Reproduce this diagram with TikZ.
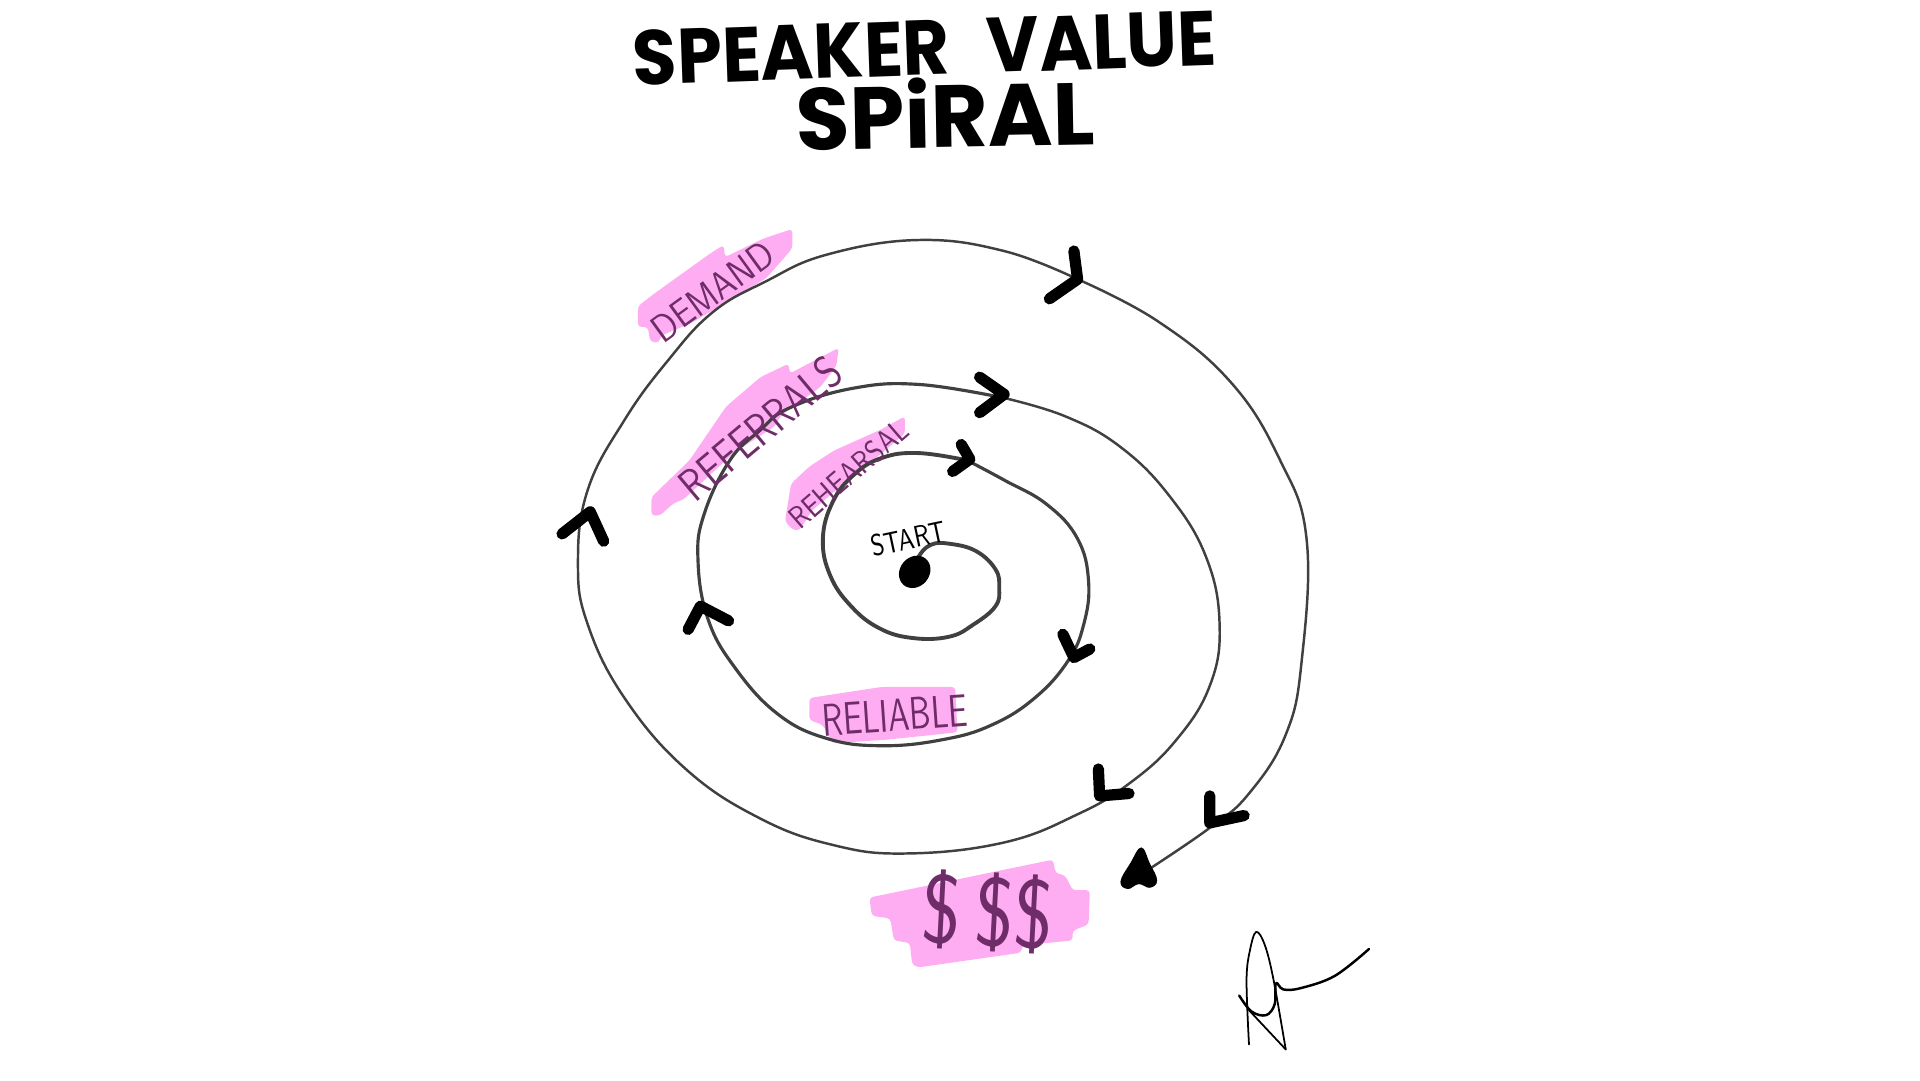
\documentclass[tikz,border=0pt]{standalone}
\usepackage{fontspec}
\setmainfont{Poppins}
\usepackage{tikz}
\definecolor{marker}{HTML}{FFADF2}
\definecolor{inked}{HTML}{6E2C68}
\tikzset{
    marked/.style={fill=marker, rounded corners=1pt},
    turn/.style={draw=black!75, line join=round, line cap=round},
    tip/.style={draw=black, line width=3.2pt, line cap=round, line join=round},
    heading/.style={inner sep=0pt, text=black, transform shape},
    tag/.style={inner sep=0pt, text=inked, transform shape},
}

\begin{document}
\begin{tikzpicture}[x=0.012245cm, y=-0.012245cm]
    \useasboundingbox (0, 0) rectangle (1568, 882);

    % highlighter
    \fill[marked] (521, 250) -- (534, 240) -- (580, 207) -- (591, 200) -- (592, 210) -- (623, 195) -- (647, 187) -- (647, 203) -- (626, 227) -- (588, 250) -- (564, 264) -- (540, 274) -- (538, 280) -- (531, 279) -- (529, 267) -- (521, 267) -- cycle;
    \fill[marked] (532, 406) -- (563, 376) -- (593, 332) -- (621, 308) -- (644, 297) -- (645, 305) -- (685, 284) -- (683, 299) -- (670, 316) -- (637, 340) -- (633, 348) -- (599, 370) -- (558, 408) -- (550, 411) -- (539, 421) -- (532, 421) -- cycle;
    \fill[marked] (646, 395) -- (661, 381) -- (681, 368) -- (719, 351) -- (739, 340) -- (739, 354) -- (713, 376) -- (683, 400) -- (663, 417) -- (653, 433) -- (648, 433) -- (641, 426) -- cycle;
    \fill[marked] (661, 570) -- (720, 561) -- (780, 561) -- (782, 598) -- (725, 604) -- (680, 607) -- (672, 592) -- (661, 588) -- cycle;
    \fill[marked] (710, 733) -- (860, 702) -- (862, 713) -- (870, 715) -- (876, 727) -- (890, 727) -- (889, 755) -- (876, 760) -- (876, 768) -- (835, 772) -- (834, 778) -- (750, 790) -- (745, 788) -- (743, 770) -- (730, 768) -- (727, 750) -- (712, 748) -- cycle;

    % spiral, from the middle outwards
    \draw[turn, line width=1.1pt] plot[smooth, tension=0.7] coordinates {(747,467) (750,455) (760,445) (775,444) (797,450) (813,465) (816,480) (813,495) (795,510) (775,520) (745,521) (718,513) (695,495) (678,470) (672,440) (680,410) (697,388) (720,374) (750,370) (790,376)};
    \draw[turn, line width=0.9pt] plot[smooth, tension=0.7] coordinates {(790,376) (820,392) (855,412) (880,440) (889,475) (885,510) (872,540) (845,570) (810,592) (770,604) (720,609) (675,603) (635,583) (600,545) (578,505) (570,457) (575,420) (596,376) (620,352) (645,333) (697,317) (751,314) (820,325)};
    \draw[turn, line width=0.7pt] plot[smooth, tension=0.7] coordinates {(820,325) (870,340) (915,365) (955,405) (985,455) (996,510) (988,560) (960,605) (922,640) (880,665) (820,688) (740,697) (680,690) (620,668) (560,628) (510,570) (480,510) (472,460) (480,400) (510,343) (545,295) (582,255) (625,230) (675,208) (750,196) (820,205) (880,228)};
    \draw[turn, line width=0.7pt] plot[smooth, tension=0.7] coordinates {(880,228) (945,262) (1005,312) (1045,375) (1067,440) (1063,540) (1050,600) (1020,648) (988,676) (935,712)};

    % arrow tips
    \draw[tip] (877, 205) -- (880, 228) -- (857, 244);
    \draw[tip] (800, 308) -- (820, 322) -- (800, 337);
    \draw[tip] (785, 363) -- (792, 375) -- (778, 385);
    \draw[tip] (868, 518) -- (877, 537) -- (890, 530);
    \draw[tip] (897, 628) -- (898, 650) -- (922, 648);
    \draw[tip] (988, 650) -- (988, 672) -- (1016, 666);
    \draw[tip] (562, 514) -- (572, 495) -- (595, 507);
    \draw[tip] (459, 436) -- (482, 418) -- (493, 442);
    \fill[black] plot[smooth cycle, tension=0.7] coordinates {(932,692) (939,705) (945,719) (939,725) (930,722) (921,726) (915,720) (923,705)};
    \fill[black, rotate around={50:(747, 467)}] (747, 467) ellipse (14 and 12);

    % labels
    \node[heading, rotate=2, xscale=0.93, font=\bfseries\fontsize{22}{22}\selectfont] (title1) at (755, 39) {SPEAKER\hspace{0.3em}~VALUE};
    \node[heading, rotate=1, font=\bfseries\fontsize{25}{25}\selectfont] (title2) at (772, 92) {SPiRAL};
    \node[tag, rotate=36, xscale=0.88, font=\sffamily\fontsize{11}{11}\selectfont] (demand) at (582, 238) {DEMAND};
    \node[tag, rotate=40, xscale=0.8, font=\sffamily\fontsize{13}{13}\selectfont] (referrals) at (621, 350) {REFERRALS};
    \node[tag, rotate=41, xscale=0.8, font=\sffamily\fontsize{9}{9}\selectfont] (rehearsal) at (693, 387) {REHEARSAL};
    \node[tag, rotate=12, xscale=0.78, text=black, font=\sffamily\fontsize{8.5}{8.5}\selectfont] (start) at (742, 440) {START};
    \node[tag, rotate=4, xscale=0.72, font=\sffamily\fontsize{13}{13}\selectfont] (reliable) at (731, 584) {RELIABLE};
    \node[tag, rotate=-3, xscale=0.85, font=\sffamily\fontsize{28}{28}\selectfont] (money) at (807, 745) {\$\,\$\$};

    % signature
    \draw[black, line width=0.5pt, line cap=round, line join=round] plot[smooth, tension=0.6] coordinates {(1050,857) (1040,800) (1033,772) (1026,761) (1021,775) (1018,800) (1020,853)};
    \draw[black, line width=0.5pt, line cap=round] (1020, 825) -- (1050, 857);
    \draw[black, line width=0.7pt, line cap=round, line join=round] plot[smooth, tension=0.6] coordinates {(1012,813) (1022,826) (1034,829) (1041,820) (1042,803) (1048,808) (1062,807) (1090,797) (1118,775)};
\end{tikzpicture}
\end{document}
